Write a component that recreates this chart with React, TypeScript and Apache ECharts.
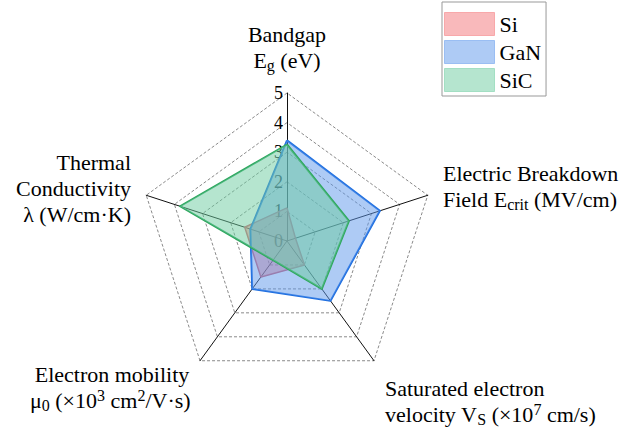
import React, { useEffect, useRef } from 'react';
import * as echarts from 'echarts';

const FONT = 'Liberation Serif';

// Indicators (counter-clockwise from top)
const indicatorNames = [
  'Bandgap',
  'Thermal Conductivity',
  'Electron mobility',
  'Saturated electron velocity',
  'Electric Breakdown Field',
];
const axisMin = 0;
const axisMax = 5;
const splitCount = 5;

const seriesNames = ['Si', 'GaN', 'SiC'];
const siValues = [1.12, 1.5, 1.5, 1.0, 0.3];
const ganValues = [3.4, 1.3, 2.0, 2.5, 3.3];
const sicValues = [3.26, 3.8, 0.8, 2.0, 2.2];
const allValues = [siValues, ganValues, sicValues];

const fillColors = ['rgba(244,115,120,0.5)', 'rgba(93,151,235,0.5)', 'rgba(108,204,160,0.5)'];
const lineColors = ['#cc6070', '#1f6fe0', '#2ea65e'];
const lineWidths = [1.5, 2, 2];

// Axis titles (rich text)
const labelTop = 'Bandgap\nE{sub|g} (eV)';
const labelRight = 'Electric Breakdown\nField E{sub|crit} (MV/cm)';
const labelLeft = 'Thermal\nConductivity\nλ (W/cm·K)';
const labelBottomLeft1 = 'Electron mobility';
const labelBottomLeft2 = 'μ{sub|0} (×10{sup|3} cm{sup|2}/V·s)';
const labelBottomRight = 'Saturated electron\nvelocity V{sub|S} (×10{sup|7} cm/s)';

const richStyles = {
  sub: { fontSize: 16, lineHeight: 8, verticalAlign: 'bottom', fontFamily: FONT, fill: '#000' },
  sup: { fontSize: 16, lineHeight: 12, verticalAlign: 'top', fontFamily: FONT, fill: '#000' },
};

function textEl(text: string, x: number, y: number, align: string) {
  return {
    type: 'text',
    x,
    y,
    z: 10,
    style: {
      text,
      fontSize: 22,
      lineHeight: 26,
      fontFamily: FONT,
      fill: '#000',
      align,
      verticalAlign: 'top',
      rich: richStyles,
    },
  };
}

export default function App() {
  const ref = useRef<HTMLDivElement>(null);
  useEffect(() => {
    if (!ref.current) return;
    const chart = echarts.init(ref.current, undefined, { renderer: 'svg' });
    const option = {
      animation: false,
      textStyle: { fontFamily: FONT },
      legend: {
        orient: 'vertical',
        left: 442,
        top: 2,
        padding: [10, 5, 4, 2],
        itemWidth: 50,
        itemHeight: 23,
        itemGap: 4,
        borderColor: '#999',
        borderWidth: 1,
        borderRadius: 0,
        icon: 'rect',
        textStyle: { fontSize: 22, fontFamily: FONT, color: '#000' },
        data: seriesNames.map((n, i) => ({
          name: n,
          itemStyle: { color: fillColors[i], borderColor: fillColors[i], borderWidth: 1 },
        })),
      },
      radar: {
        center: [287, 241],
        radius: 148,
        startAngle: 90,
        splitNumber: splitCount,
        shape: 'polygon',
        axisName: { show: false },
        axisLine: { lineStyle: { color: '#111', width: 1 } },
        splitLine: { lineStyle: { color: '#8a8a8a', width: 1, type: [3, 2] } },
        splitArea: { show: false },
        axisTick: { show: false },
        axisLabel: { show: false },
        indicator: indicatorNames.map((name, i) => ({
          name,
          min: axisMin,
          max: axisMax,
          axisLabel:
            i === 0
              ? { show: true, fontSize: 18, fontFamily: FONT, color: '#000', margin: 4 }
              : { show: false },
        })),
      },
      series: [
        {
          type: 'radar',
          symbol: 'none',
          silent: true,
          data: seriesNames.map((n, i) => ({
            name: n,
            value: allValues[i],
            lineStyle: { color: lineColors[i], width: lineWidths[i] },
            areaStyle: { color: fillColors[i], opacity: 1 },
            itemStyle: { color: fillColors[i] },
          })),
        },
      ],
      graphic: [
        textEl(labelTop, 287, 21, 'center'),
        textEl(labelRight, 443, 160, 'left'),
        textEl(labelLeft, 131, 149, 'right'),
        textEl(labelBottomLeft1, 112, 361, 'center'),
        textEl(labelBottomLeft2, 30, 387, 'left'),
        textEl(labelBottomRight, 385, 375, 'left'),
      ],
    };
    chart.setOption(option as any);
    return () => chart.dispose();
  }, []);
  return (
    <div
      ref={ref}
      style={{ position: 'absolute', left: 0, top: 0, width: 634, height: 432 }}
    />
  );
}
